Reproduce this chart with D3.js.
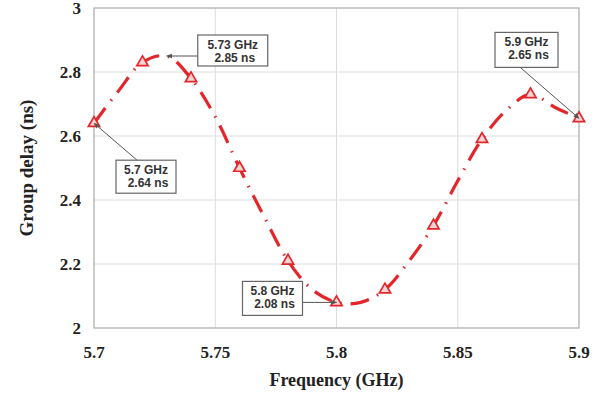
<!DOCTYPE html>
<html>
<head>
<meta charset="utf-8">
<script src="https://cdn.jsdelivr.net/npm/d3@7"></script>
<style>
  body { margin: 0; background: #fff; }
  svg { display: block; }
</style>
</head>
<body>
<div id="chart"></div>
<script>
// group delay vs frequency
let freqs = [5.70, 5.71, 5.72, 5.73, 5.74, 5.75, 5.76, 5.77, 5.78, 5.79, 5.80,
  5.81, 5.82, 5.83, 5.84, 5.85, 5.86, 5.87, 5.88, 5.89, 5.90]
let delays = [2.64, 2.74, 2.83, 2.85, 2.78, 2.66, 2.50, 2.35, 2.21, 2.12, 2.08,
  2.08, 2.12, 2.21, 2.32, 2.46, 2.59, 2.68, 2.73, 2.69, 2.655]
let markerFreqs = [5.70, 5.72, 5.74, 5.76, 5.78, 5.80, 5.82, 5.84, 5.86, 5.88, 5.90]
let xTicks = [5.7, 5.75, 5.8, 5.85, 5.9]
let yTicks = [2, 2.2, 2.4, 2.6, 2.8, 3]
let callouts = [
  { f: 5.73, v: 2.85, lines: ['5.73 GHz', '2.85 ns'], dx: 31, dy: -21, w: 70, h: 31 },
  { f: 5.70, v: 2.64, lines: ['5.7 GHz', '2.64 ns'], dx: 22, dy: 37, w: 60, h: 33 },
  { f: 5.80, v: 2.08, lines: ['5.8 GHz', '2.08 ns'], dx: -94, dy: -21, w: 60, h: 34 },
  { f: 5.90, v: 2.655, lines: ['5.9 GHz', '2.65 ns'], dx: -84, dy: -86, w: 63, h: 35 }
]

let margin = { top: 8, left: 94, right: 28, bottom: 66 }
let width = 607 - margin.left - margin.right
let height = 394 - margin.top - margin.bottom
let red = '#e3262a'

let svg = d3.select('#chart')
  .append('svg')
  .attr('width', 607)
  .attr('height', 394)

let g = svg.append('g')
  .attr('transform', `translate(${margin.left},${margin.top})`)

let x = d3.scaleLinear().domain([5.7, 5.9]).range([0, width])
let y = d3.scaleLinear().domain([2, 3]).range([height, 0])

// grid
g.selectAll('.vgrid').data(xTicks).enter().append('line')
  .attr('x1', d => x(d)).attr('x2', d => x(d))
  .attr('y1', 0).attr('y2', height)
  .attr('stroke', '#dcdcdc').attr('stroke-width', 1)
g.selectAll('.hgrid').data(yTicks).enter().append('line')
  .attr('x1', 0).attr('x2', width)
  .attr('y1', d => y(d)).attr('y2', d => y(d))
  .attr('stroke', '#dcdcdc').attr('stroke-width', 1)

g.append('rect')
  .attr('width', width).attr('height', height)
  .attr('fill', 'none').attr('stroke', '#b5b5b5').attr('stroke-width', 1.2)

// tick labels
let serif = "'Liberation Serif', 'Times New Roman', serif"
g.selectAll('.xlab').data(xTicks).enter().append('text')
  .attr('x', d => x(d)).attr('y', height + 30)
  .attr('text-anchor', 'middle')
  .attr('font-family', serif).attr('font-weight', 'bold').attr('font-size', 17)
  .attr('fill', '#222')
  .text(d => d)
g.selectAll('.ylab').data(yTicks).enter().append('text')
  .attr('x', -13).attr('y', d => y(d) + 6)
  .attr('text-anchor', 'end')
  .attr('font-family', serif).attr('font-weight', 'bold').attr('font-size', 17)
  .attr('fill', '#222')
  .text(d => d)

svg.append('text')
  .attr('x', margin.left + width / 2).attr('y', 386)
  .attr('text-anchor', 'middle')
  .attr('font-family', serif).attr('font-weight', 'bold').attr('font-size', 18)
  .attr('fill', '#222')
  .text('Frequency (GHz)')
svg.append('text')
  .attr('transform', `translate(33,${margin.top + height / 2}) rotate(-90)`)
  .attr('text-anchor', 'middle')
  .attr('font-family', serif).attr('font-weight', 'bold').attr('font-size', 19)
  .attr('fill', '#222')
  .text('Group delay (ns)')

// curve
let data = freqs.map((f, i) => ({ f: f, v: delays[i] }))
let line = d3.line()
  .x(d => x(d.f)).y(d => y(d.v))
  .curve(d3.curveCatmullRom)
g.append('path')
  .datum(data)
  .attr('d', line)
  .attr('fill', 'none')
  .attr('stroke', red)
  .attr('stroke-width', 3.2)
  .attr('stroke-dasharray', '19 9 1.5 9')

// markers
let markers = data.filter(d => markerFreqs.some(m => Math.abs(m - d.f) < 1e-6))
g.selectAll('.marker').data(markers).enter().append('path')
  .attr('d', d3.symbol().type(d3.symbolTriangle).size(55))
  .attr('transform', d => `translate(${x(d.f)},${y(d.v)})`)
  .attr('fill', '#f7d4d4')
  .attr('stroke', red)
  .attr('stroke-width', 1.7)

// callouts
svg.append('defs').append('marker')
  .attr('id', 'arrow')
  .attr('viewBox', '0 0 10 10')
  .attr('refX', 9).attr('refY', 5)
  .attr('markerWidth', 6).attr('markerHeight', 6)
  .attr('orient', 'auto')
  .append('path')
  .attr('d', 'M0,1 L10,5 L0,9 z')
  .attr('fill', '#555')

let sans = "'Liberation Sans', Arial, sans-serif"
callouts.forEach(c => {
  let px = x(c.f)
  let py = y(c.v)
  let bx = px + c.dx
  let by = py + c.dy
  // leader attaches to nearest side of the box
  let ax = Math.min(Math.max(px, bx), bx + c.w)
  let ay = Math.min(Math.max(py, by), by + c.h)
  if (c.dy > 0) ax = bx + c.w * 0.35
  if (c.dx < -c.w && c.dy < -c.h) { ax = bx + c.w * 0.4; ay = by + c.h }
  g.append('line')
    .attr('x1', ax).attr('y1', ay)
    .attr('x2', px).attr('y2', py)
    .attr('stroke', '#555').attr('stroke-width', 1)
    .attr('marker-end', 'url(#arrow)')
  g.append('rect')
    .attr('x', bx).attr('y', by)
    .attr('width', c.w).attr('height', c.h)
    .attr('fill', '#fff').attr('stroke', '#666').attr('stroke-width', 1.2)
  c.lines.forEach((t, i) => {
    g.append('text')
      .attr('x', bx + c.w / 2 + (i === 1 ? 2 : 0))
      .attr('y', by + 13.5 + i * 13)
      .attr('text-anchor', 'middle')
      .attr('font-family', sans).attr('font-weight', 'bold').attr('font-size', 12)
      .attr('fill', '#333')
      .text(t)
  })
})
</script>
</body>
</html>
